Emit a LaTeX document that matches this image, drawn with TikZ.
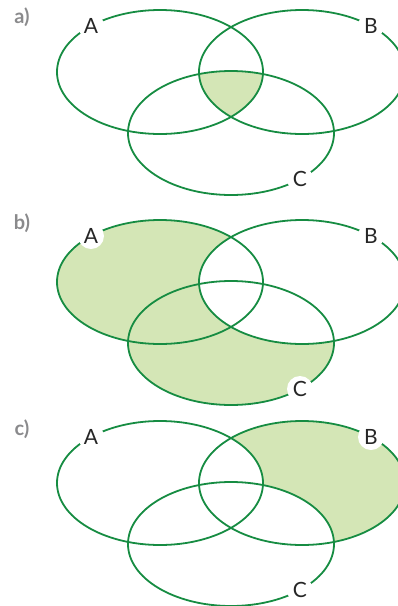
\documentclass[tikz,border=0pt]{standalone}
\usepackage{fontspec}
\setmainfont{Lato}
\definecolor{venngreen}{RGB}{22,140,66}
\definecolor{vennfill}{RGB}{212,230,182}
\definecolor{taggray}{RGB}{138,138,140}

\begin{document}
\begin{tikzpicture}[
  x=1pt, y=-1pt,
  rad/.style={x radius=103pt, y radius=62pt},
  set/.style={draw=venngreen, line width=1.8pt},
  lbl/.style={circle, fill=white, inner sep=0pt, minimum size=26pt, text=black!85,
              font=\fontsize{21}{21}\selectfont},
  tag/.style={font=\fontsize{20}{20}\selectfont\bfseries, text=taggray}
]
\useasboundingbox (0,0) rectangle (398,606);

% a) A and B and C
\begin{scope}
\coordinate (aA) at (160,72);
\coordinate (aB) at (302,72);
\coordinate (aC) at (231,133);
\begin{scope}
  \clip (aA) ellipse [rad];
  \clip (aB) ellipse [rad];
  \fill[vennfill] (aC) ellipse [rad];
\end{scope}
\draw[set] (aA) ellipse [rad];
\draw[set] (aB) ellipse [rad];
\draw[set] (aC) ellipse [rad];
\node[lbl] (aLA) at (91,26) {A};
\node[lbl] (aLB) at (371,26) {B};
\node[lbl] (aLC) at (300,179) {C};
\node[tag] (tagA) at (22,17) {a)};
\end{scope}

% b) (A or C) without B
\begin{scope}[shift={(0,210)}]
\coordinate (bA) at (160,72);
\coordinate (bB) at (302,72);
\coordinate (bC) at (231,133);
\fill[vennfill] (bA) ellipse [rad];
\fill[vennfill] (bC) ellipse [rad];
\fill[white] (bB) ellipse [rad];
\draw[set] (bA) ellipse [rad];
\draw[set] (bB) ellipse [rad];
\draw[set] (bC) ellipse [rad];
\node[lbl] (bLA) at (91,26) {A};
\node[lbl] (bLB) at (371,26) {B};
\node[lbl] (bLC) at (300,179) {C};
\node[tag] (tagB) at (22,13) {b)};
\end{scope}

% c) B only
\begin{scope}[shift={(0,411)}]
\coordinate (cA) at (160,72);
\coordinate (cB) at (302,72);
\coordinate (cC) at (231,133);
\fill[vennfill] (cB) ellipse [rad];
\fill[white] (cA) ellipse [rad];
\fill[white] (cC) ellipse [rad];
\draw[set] (cA) ellipse [rad];
\draw[set] (cB) ellipse [rad];
\draw[set] (cC) ellipse [rad];
\node[lbl] (cLA) at (91,26) {A};
\node[lbl] (cLB) at (371,26) {B};
\node[lbl] (cLC) at (300,179) {C};
\node[tag] (tagC) at (22,18) {c)};
\end{scope}
\end{tikzpicture}
\end{document}
